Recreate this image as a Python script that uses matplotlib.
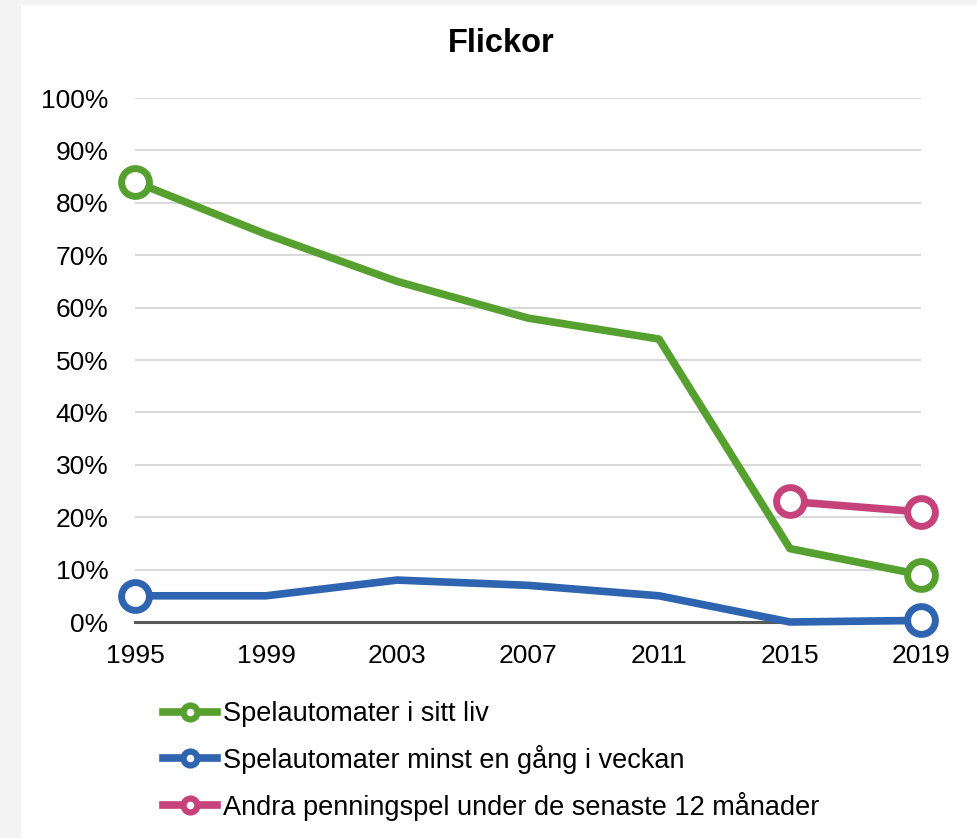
import matplotlib
matplotlib.use("Agg")
from matplotlib import pyplot as plt
from matplotlib.patches import Rectangle
import numpy as np

plt.rcParams["font.family"] = ["Liberation Sans", "DejaVu Sans"]

# data (percent)
years = ["1995", "1999", "2003", "2007", "2011", "2015", "2019"]
spel_liv = [84, 74, 65, 58, 54, 14, 9]
spel_vecka = [5, 5, 8, 7, 5, 0, 0.3]
andra_spel = [np.nan, np.nan, np.nan, np.nan, np.nan, 23, 21]

labels = ["Spelautomater i sitt liv",
          "Spelautomater minst en gång i veckan",
          "Andra penningspel under de senaste 12 månader"]
colors = ["#55a02f", "#2e64b0", "#c5427b"]

W, H = 978, 838
fig = plt.figure(figsize=(W / 100, H / 100), dpi=100)
fig.patch.set_facecolor("#f3f3f3")
fig.add_artist(Rectangle((21 / W, 0), 1, 1 - 5 / H, transform=fig.transFigure,
                         facecolor="white", edgecolor="none", zorder=0))

ax = fig.add_axes([135 / W, (H - 622) / H, (921 - 135) / W, (622 - 98) / H])
ax.set_facecolor("none")

x = np.arange(len(years))
for vals, lab, col in zip([spel_liv, spel_vecka, andra_spel], labels, colors):
    v = np.array(vals, dtype=float) / 100
    ok = ~np.isnan(v)
    ax.plot(x[ok], v[ok], color=col, linewidth=5.5, marker="o",
            markevery=[0, -1], markersize=20, markerfacecolor="white",
            markeredgecolor=col, markeredgewidth=5, label=lab,
            clip_on=False, zorder=3, solid_joinstyle="round")

ax.set_xlim(0, len(years) - 1)
ax.set_ylim(0, 1)
ax.set_yticks(np.arange(0, 1.01, 0.1))
ax.set_yticklabels([f"{int(round(t * 100))}%" for t in np.arange(0, 1.01, 0.1)])
ax.set_xticks(x)
ax.set_xticklabels(years)
ax.tick_params(axis="both", length=0, labelsize=19, colors="black")
ax.tick_params(axis="y", pad=19)
ax.tick_params(axis="x", pad=16)
ax.grid(axis="y", color="#d9d9d9", linewidth=1.5)
ax.set_axisbelow(True)
for s in ["left", "right", "top"]:
    ax.spines[s].set_visible(False)
ax.spines["bottom"].set_color("#595959")
ax.spines["bottom"].set_linewidth(2.2)
ax.spines["bottom"].set_zorder(2)

fig.text(501 / W, 1 - 44 / H, "Flickor", ha="center", va="center",
         fontsize=23.5, fontweight="bold")

leg = fig.legend(loc="upper left", bbox_to_anchor=(163 / W, 1 - 701 / H),
                 frameon=False, fontsize=19.5, borderpad=0, borderaxespad=0,
                 handlelength=2.0, handletextpad=0.2, labelspacing=0.66)
for h in leg.legend_handles:
    h.set_linewidth(5.5)
    h.set_markersize(10)
    h.set_markeredgewidth(4.5)

fig.savefig("out.png", dpi=100, facecolor=fig.get_facecolor())
